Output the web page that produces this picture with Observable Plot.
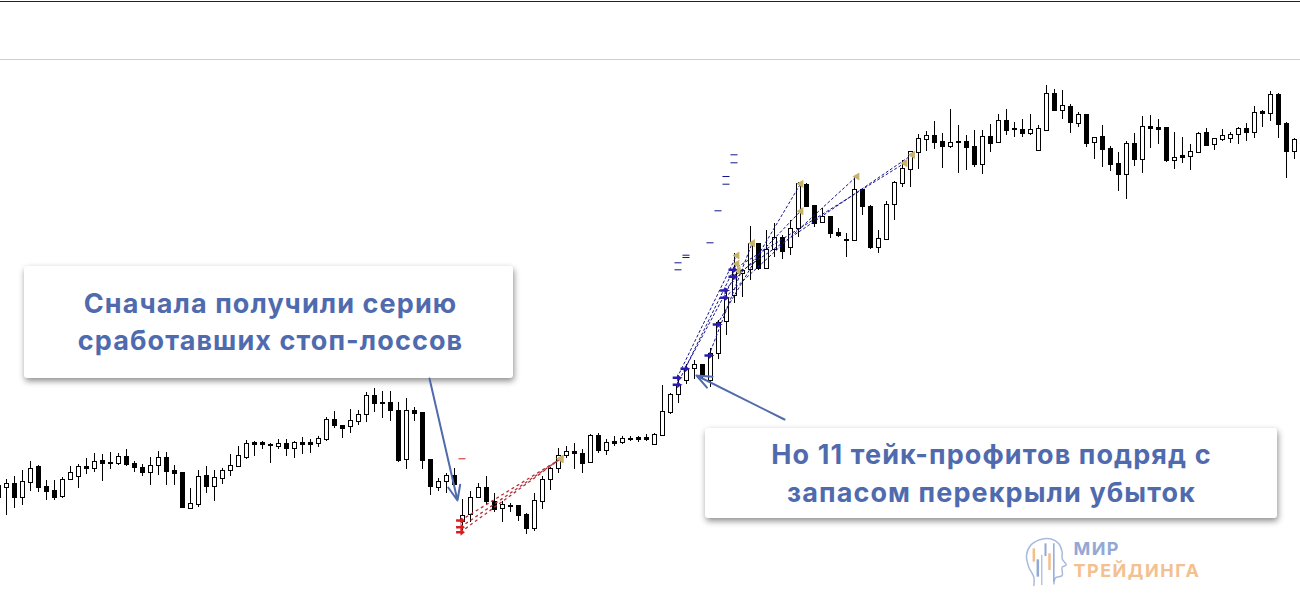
<!DOCTYPE html>
<html lang="ru">
<head>
<meta charset="utf-8">
<style>html,body{margin:0;padding:0;background:#fff;overflow:hidden}svg{display:block}</style>
<script src="https://cdn.jsdelivr.net/npm/d3@7"></script>
<script src="https://cdn.jsdelivr.net/npm/@observablehq/plot@0.6"></script>
</head>
<body>
<div id="chart"></div>
<script>
const high = [115,
121,124,130,139,135,120,120,123,134,136,
142,147,146,148,147,151,139,136,143,149,
148,135,128,112,130,134,130,132,146,154,
160,159,159,157,161,161,159,163,161,164,
183,189,175,191,190,208,212,209,209,198,
202,193,188,141,122,127,132,101,109,117,
124,107,99,97,95,87,107,124,133,152,
154,157,151,166,167,161,164,164,164,164,
166,167,215,207,223,236,240,236,252,280,
310,347,331,374,357,370,377,365,380,418,
417,395,392,384,372,367,423,411,395,370,
399,419,440,449,466,469,479,467,491,475,
465,470,470,476,486,491,478,481,486,475,
515,511,510,496,488,486,463,475,454,448,
459,467,484,485,481,473,468,463,456,468,
472,462,471,468,473,477,494,490,509,507,
478,462];
const bodyTop = [115,
117,117,119,132,134,114,110,121,128,134,
134,139,140,138,144,144,137,133,135,143,
143,130,128,97,124,125,123,130,135,145,
157,158,158,156,157,157,158,158,158,162,
181,181,175,180,186,205,205,198,198,190,
190,190,188,141,119,125,125,85,103,113,
113,99,96,95,95,86,100,121,132,145,
149,149,147,165,165,158,159,162,162,163,
163,166,189,206,216,232,236,236,247,278,
303,331,330,357,357,351,363,363,372,417,
416,395,384,384,368,361,411,411,394,362,
396,418,432,449,462,465,465,459,458,459,
459,454,464,464,480,480,472,471,471,472,
507,507,495,494,486,486,463,464,452,437,
457,457,474,474,473,473,443,445,449,467,
468,462,465,466,472,472,488,489,506,506,
477,461];
const bodyBottom = [103,
113,103,103,118,113,109,103,104,121,124,
132,132,137,137,137,136,133,128,128,135,
129,127,93,92,96,114,114,122,130,134,
143,156,156,155,154,152,152,156,156,157,
161,175,172,174,179,186,197,197,190,140,
141,187,140,114,113,119,116,79,86,103,
99,91,92,94,85,72,72,99,121,132,
145,147,137,138,150,150,157,158,161,161,
161,156,165,188,206,220,232,225,220,247,
279,305,327,331,332,332,351,349,353,372,
394,377,378,367,365,360,360,394,353,353,
361,396,417,431,448,461,458,454,454,458,
453,436,436,457,458,470,471,467,467,450,
470,490,490,478,477,457,458,451,436,426,
426,441,441,472,471,440,440,443,444,448,
455,456,461,462,466,468,468,487,487,476,
449,449];
const low = [103,
85,92,95,109,108,100,100,102,121,112,
126,128,119,131,135,134,128,124,115,125,
115,115,92,91,93,107,99,116,124,133,
141,144,151,137,151,144,142,146,147,153,
159,172,162,167,175,178,188,182,179,138,
131,179,131,105,109,107,110,70,78,103,
96,88,78,88,79,66,69,91,110,127,
142,131,127,137,147,145,154,156,159,158,
159,155,164,186,197,216,221,222,213,241,
265,297,303,320,330,332,343,341,345,363,
394,373,378,362,363,343,360,385,351,347,
361,380,413,413,431,449,451,432,452,427,
430,433,426,448,457,465,463,463,465,449,
469,490,481,467,473,453,441,433,429,409,
401,434,427,452,456,438,431,437,430,447,
455,450,459,457,456,459,462,473,479,462,
422,441];
const tone = ("w " +
"w b w w b b b w w w " +
"b w b b w b b b w w " +
"b b b w w b w w w w " +
"w b b b w b w b b w " +
"w b b w w w b b b b " +
"w b b b w w b w w w " +
"b b w b b b w w w w " +
"w b b w b w b w b b " +
"b w w w w w w b w w " +
"w w w w b w w b w w " +
"b b w b b b w b b w " +
"w w w w w w b b w b " +
"b b w b w b b b w w " +
"w b w b w b w b b b " +
"w b w b b b w b w w " +
"b w w w w b w b w b " +
"b w").split(" ");

// trades: entry position/price to exit position/price
const buyEntryX  = [84.83,84.83,85.8,88.8,89.83,90.75,90.75,91.8,91.8];
const buyEntryP  = [222.7,215.7,231.7,245,276,310,302.7,330.7,323.7];
const buyExitX   = [92.25,92.25,92.4,94.2,100.25,100.25,107.25,113.25,114.2];
const buyExitP   = [345,336.7,330,357.3,416.7,389.3,424,437.3,445.7];
const lossEntryX = [57.75,57.75,57.75];
const lossEntryP = [80,73.3,68.3];
const lossExitX  = [70.25,70.25,70.25];
const lossExitP  = [141.7,141.7,141.7];
const levelX = [92,92,91,91,90,89,86,86,85,85];
const levelP = [445.7,437.7,424,416.3,389.7,357.7,345.3,343,337.7,330.7];
const stopLevelX = [58];
const stopLevelP = [141.7];

const leftLines = ["Сначала получили серию", "сработавших стоп-лоссов"];
const rightLines = ["Но 11 тейк-профитов подряд с", "запасом перекрыли убыток"];

const BLUE = "#4f6bae";
const NAVY = "#14148c";
const GOLD = "#c9b26a";
const RED = "#b03238";
const FONT = "Inter, 'Open Sans', sans-serif";

// annotations are placed in pixels, converted to the chart's scales
const X = px => (px + 2) / 8;
const P = py => 600 - py;

const candles = high.map((h, i) => ({i, h, l: low[i], t: bodyTop[i], b: bodyBottom[i], tone: tone[i]}));
const buys = buyEntryX.map((x, i) => ({x1: x, y1: buyEntryP[i], x2: buyExitX[i], y2: buyExitP[i]}));
const losses = lossEntryX.map((x, i) => ({x1: x, y1: lossEntryP[i], x2: lossExitX[i], y2: lossExitP[i]}));
const levels = levelX.map((x, i) => ({x, y: levelP[i]}));
const stops = stopLevelX.map((x, i) => ({x, y: stopLevelP[i]}));

const arrowRight = {draw(c, s) { const r = Math.sqrt(s);
  c.moveTo(-r, -r * .28); c.lineTo(0, -r * .28); c.lineTo(0, -r * .8); c.lineTo(r, 0);
  c.lineTo(0, r * .8); c.lineTo(0, r * .28); c.lineTo(-r, r * .28); c.closePath(); }};
const arrowLeftTri = {draw(c, s) { const r = Math.sqrt(s);
  c.moveTo(-r, 0); c.lineTo(r * .7, -r); c.lineTo(r * .7, r); c.closePath(); }};

const headPath = [[100,195],[100,170],[85,140],[78,105],[90,75],[120,57],[150,55],[175,70],[185,95],[185,115],[197,133],[185,140],[185,165],[165,172],[160,190]]
  .map(([a, b]) => ({x: X(1000 + a / 3), y: P(520 + b / 3)}));
const logoBars = [[100,85,125,"#f4bd8c",2.5],[112,118,170,"#93a8d4",2.5],[124,105,195,"#93a8d4",1],[135,70,108,"#93a8d4",2],[147,100,150,"#f4bd8c",2.5],[160,70,185,"#93a8d4",1.5]]
  .map(([a, b, c, color, w]) => ({x: X(1000 + a / 3), y1: P(520 + b / 3), y2: P(520 + c / 3), color, w}));

const callouts = [
  {x1: X(24), x2: X(513), y1: P(378), y2: P(266)},
  {x1: X(705), x2: X(1277), y1: P(518), y2: P(428)}
];
const labels = [
  {text: leftLines[0], x: X(270), y: P(304)},
  {text: leftLines[1], x: X(270), y: P(341)},
  {text: rightLines[0], x: X(991), y: P(455)},
  {text: rightLines[1], x: X(991), y: P(493)}
];
const pointers = [
  {x1: X(429), y1: P(378), x2: X(457), y2: P(500)},
  {x1: X(784), y1: P(419), x2: X(696), y2: P(375)}
];

const chart = Plot.plot({
  width: 1300, height: 600, margin: 0,
  x: {axis: null, domain: [0.25, 162.75], range: [0, 1300]},
  y: {axis: null, domain: [0, 600], range: [600, 0]},
  style: {background: "#fff"},
  marks: [
    Plot.ruleY([P(1)], {stroke: "#222", strokeWidth: 1}),
    Plot.ruleY([P(59)], {stroke: "#cfcfcf", strokeWidth: 1}),
    Plot.ruleX(candles, {x: "i", y1: "l", y2: "h", stroke: "#000", strokeWidth: 1, shapeRendering: "crispEdges"}),
    Plot.rect(candles, {x1: d => d.i - 0.25, x2: d => d.i + 0.25, y1: "b", y2: "t",
      fill: d => d.tone === "w" ? "#fff" : "#000", stroke: "#000", strokeWidth: 1, shapeRendering: "crispEdges"}),
    Plot.link(buys, {x1: "x1", y1: "y1", x2: "x2", y2: "y2", stroke: NAVY, strokeWidth: 1, strokeDasharray: "3,2"}),
    Plot.link(losses, {x1: "x1", y1: "y1", x2: "x2", y2: "y2", stroke: RED, strokeWidth: 1.3, strokeDasharray: "3,3"}),
    Plot.ruleY(levels, {y: "y", x1: d => d.x - 0.44, x2: d => d.x + 0.44, stroke: NAVY, strokeWidth: 1}),
    Plot.ruleY(stops, {y: "y", x1: d => d.x - 0.44, x2: d => d.x + 0.44, stroke: "#d11f1f", strokeWidth: 1}),
    Plot.ruleY(buys, {y: "y1", x1: d => d.x1 - 0.1, x2: d => d.x1 + 0.7, stroke: "#c0303a", strokeWidth: 1}),
    Plot.dot(buys, {x: "x2", y: "y2", symbol: arrowLeftTri, r: 2.3, fill: GOLD, stroke: "none"}),
    Plot.dot(losses, {x: "x2", y: "y2", symbol: arrowLeftTri, r: 2.3, fill: GOLD, stroke: "none"}),
    Plot.dot(buys, {x: "x1", y: "y1", symbol: arrowRight, r: 2.5, fill: "#2a1ab5", stroke: "none"}),
    Plot.dot(losses, {x: "x1", y: "y1", symbol: arrowRight, r: 2.5, fill: "#dc1c1c", stroke: "none"}),
    Plot.rect(callouts, {x1: "x1", x2: "x2", y1: "y1", y2: "y2", fill: "#fff", rx: 3,
      imageFilter: "drop-shadow(1px 3px 3px rgba(0,0,0,.45))"}),
    Plot.text(labels, {x: "x", y: "y", text: "text", fill: BLUE, fontSize: 27, fontWeight: 700, fontFamily: FONT, textAnchor: "middle"}),
    Plot.arrow(pointers, {x1: "x1", y1: "y1", x2: "x2", y2: "y2", bend: 0, stroke: BLUE, strokeWidth: 2, headLength: 12, headAngle: 45}),
    Plot.line(headPath, {x: "x", y: "y", stroke: "#a9bbdd", strokeWidth: 1.5, curve: "catmull-rom"}),
    Plot.ruleX(logoBars, {x: "x", y1: "y1", y2: "y2", stroke: "color", strokeWidth: "w"}),
    Plot.text(["МИР"], {x: [X(1073)], y: [P(549)], fill: "#93a8d4", fontSize: 18, fontWeight: 700, fontFamily: FONT, textAnchor: "start"}),
    Plot.text(["ТРЕЙДИНГА"], {x: [X(1073)], y: [P(571)], fill: "#f4c08f", fontSize: 18, fontWeight: 700, fontFamily: FONT, textAnchor: "start"})
  ]
});
// wide letterforms of the reference's typeface
const spacing = new Map([...leftLines, ...rightLines].map(t => [t, "1.1px"]).concat([["МИР", "1.4px"], ["ТРЕЙДИНГА", "1.5px"]]));
d3.select(chart).selectAll("text").each(function() {
  const s = spacing.get(this.textContent);
  if (s) this.style.letterSpacing = s;
});
document.getElementById("chart").append(chart);
</script>
</body>
</html>
